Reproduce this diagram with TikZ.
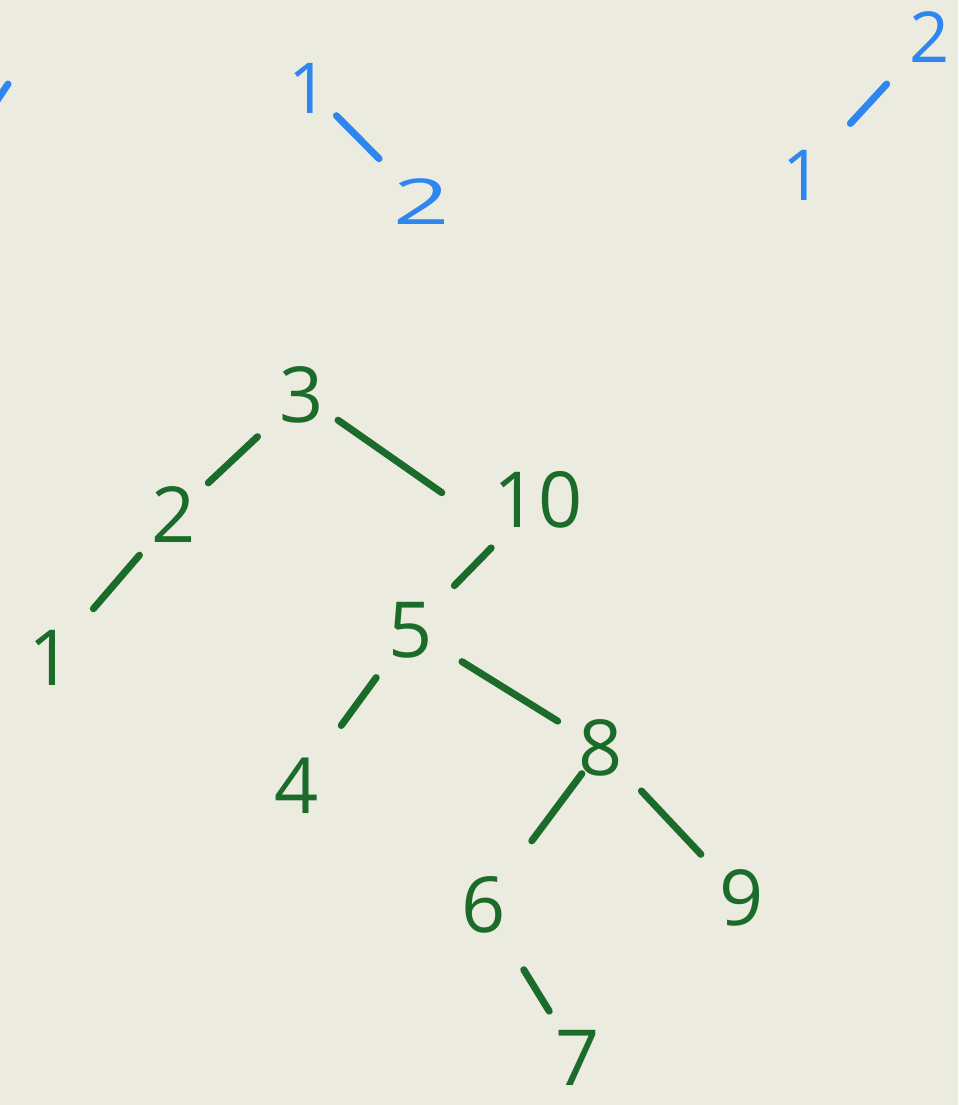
\documentclass[tikz,border=0pt]{standalone}
\usepackage{fontspec}
\setmainfont{Open Sans}
\usetikzlibrary{positioning}
\definecolor{paper}{HTML}{ECEBDF}
\definecolor{inkgreen}{HTML}{1B6B2A}
\definecolor{inkblue}{HTML}{2E86F0}
\begin{document}
\begin{tikzpicture}[x=0.02cm,y=-0.02cm,
 num/.style={inner sep=0pt,font=\fontsize{44}{44}\selectfont,text=inkgreen},
 bnum/.style={inner sep=0pt,font=\fontsize{40}{40}\selectfont,text=inkblue},
 edge/.style={draw=inkgreen,line width=4pt,line cap=round},
 bedge/.style={draw=inkblue,line width=4pt,line cap=round}]
\fill[paper] (0,0) rectangle (958,1105);
\useasboundingbox (0,0) rectangle (958,1105);
\node[bnum] (b1) at (309,88) {1};
\node[bnum,xscale=1.4,yscale=0.9] (b2) at (422,202) {2};
\node[bnum] (c1) at (803,175) {1};
\node[bnum] (c2) at (930,37) {2};
\coordinate (fa) at (8,84);\coordinate (fb) at (-4,102);
\draw[bedge,shorten <=0.78cm,shorten >=1.22cm](b1.center)--(b2.center);
\draw[bedge,shorten <=1.4cm,shorten >=1.28cm](c1.center)--(c2.center);
\draw[bedge](fa)--(fb);
\node[num] (n3) at (302,395) {3};
\node[num] (n10) at (538,500) {10};
\node[num] (n2) at (174,515) {2};
\node[num] (n1) at (51,658) {1};
\node[num] (n5) at (411,630) {5};
\node[num] (n4) at (297,786) {4};
\node[num] (n8) at (601,748) {8};
\node[num] (n6) at (484,905) {6};
\node[num] (n9) at (742,898) {9};
\node[num] (n7) at (578,1058) {7};
\draw[edge,shorten <=1.22cm,shorten >=0.94cm](n3.center)--(n2.center);
\draw[edge,shorten <=0.88cm,shorten >=1.26cm](n3.center)--(n10.south west);
\draw[edge,shorten <=1.06cm,shorten >=1.3cm](n2.center)--(n1.center);
\draw[edge,shorten <=1.34cm,shorten >=1.24cm](n10.center)--(n5.center);
\draw[edge,shorten <=1.18cm,shorten >=1.5cm](n5.center)--(n4.center);
\draw[edge,shorten <=1.2cm,shorten >=1.02cm](n5.center)--(n8.center);
\draw[edge,shorten <=0.64cm,shorten >=1.6cm](n8.center)--(n6.center);
\draw[edge,shorten <=1.18cm,shorten >=1.2cm](n8.center)--(n9.center);
\draw[edge,shorten <=1.52cm,shorten >=1.1cm](n6.center)--(n7.center);
\end{tikzpicture}
\end{document}
